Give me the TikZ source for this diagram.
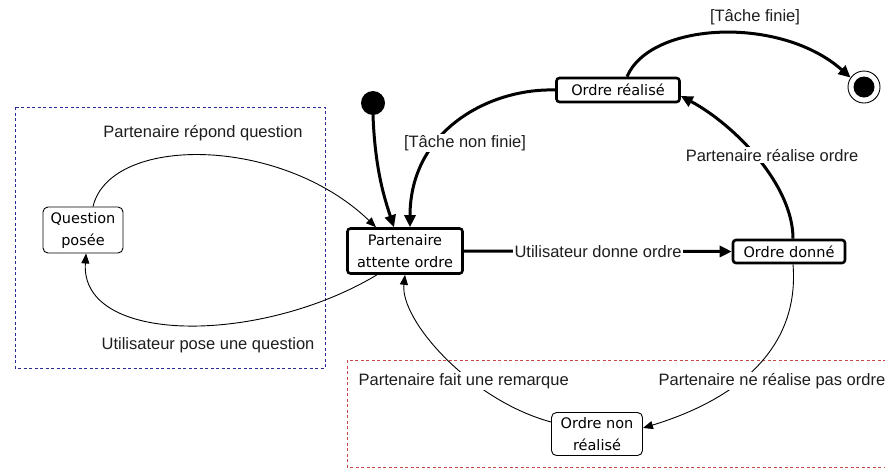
\documentclass[tikz,border=0pt]{standalone}
\usepackage{fontspec}
\setmainfont{Liberation Sans}
\newfontfamily\nodefont{DejaVu Sans}
\usetikzlibrary{arrows.meta}
\definecolor{boxblue}{RGB}{40,40,150}
\definecolor{boxred}{RGB}{200,70,70}
\definecolor{lbltext}{RGB}{30,30,30}
\begin{document}
\begin{tikzpicture}[x=1pt,y=-1pt,
  statebase/.style={draw, inner sep=0pt, align=center, fill=white,
    font=\nodefont\fontsize{14.5}{22}\selectfont},
  thickstate/.style={statebase, line width=2.6pt, rounded corners=3pt},
  thinstate/.style={statebase, line width=0.9pt, rounded corners=5pt},
  lbl/.style={font=\fontsize{16.5}{18}\selectfont, text=lbltext, inner sep=1.5pt},
  onlbl/.style={lbl, fill=white},
  strong/.style={line width=3pt, -{Triangle[length=12pt,width=11pt]}},
  weak/.style={line width=0.9pt, -{Triangle[length=10pt,width=8pt]}},
  zone/.style={line width=0.9pt, dash pattern=on 3pt off 2.5pt},
]
\useasboundingbox (0,0) rectangle (885,472);
\fill[white] (0,0) rectangle (885,472);
\clip (0,0) rectangle (885,472);

% zones
\draw[zone, boxblue] (15,107) rectangle (325,368);
\draw[zone, boxred] (347,360) rectangle (900,467);

% states
\node[thinstate, minimum width=80pt, minimum height=46pt] (qp) at (83,230) {Question\\posée};
\node[thickstate, minimum width=115pt, minimum height=45pt] (pa) at (405,251) {Partenaire\\attente ordre};
\node[thickstate, minimum width=112pt, minimum height=23pt] (od) at (789,251.5) {Ordre donné};
\node[thickstate, minimum width=123pt, minimum height=24pt] (or) at (618,90) {Ordre réalisé};
\node[thinstate, minimum width=91pt, minimum height=43pt] (onr) at (597,434) {Ordre non\\réalisé};

% initial and final
\node[circle, fill=black, minimum size=24pt, inner sep=0pt] (init) at (373,103) {};
\node[circle, draw, line width=0.9pt, minimum size=32pt, inner sep=0pt] (fin) at (864,87) {};
\node[circle, fill=black, minimum size=21pt, inner sep=0pt] (finin) at (fin.center) {};

% connectors
\draw[weak] ([xshift=10pt]qp.north) .. controls (110,135) and (280,135) .. ([xshift=-29pt]pa.north);
\draw[weak] ([xshift=-28pt]pa.south) .. controls (260,345) and (80,345) .. ([xshift=3pt]qp.south);
\draw[strong] (init.south) .. controls (375,170) and (385,200) .. ([xshift=-11pt]pa.north);
\draw[strong] (or.west) .. controls (490,88) and (410,130) .. ([xshift=5pt]pa.north);
\draw[strong] (pa.east) -- (od.west);
\draw[strong] ([xshift=4pt]od.north) .. controls (793,185) and (735,125) .. ([yshift=-6pt]or.east);
\draw[strong] ([xshift=9pt]or.north) .. controls (650,22) and (780,15) .. (fin.145);
\draw[weak] ([xshift=4pt]od.south) .. controls (800,350) and (735,400) .. ([yshift=6pt]onr.east);
\draw[weak] ([yshift=12pt]onr.west) .. controls (470,400) and (400,320) .. (pa.south);

% labels
\node[lbl] (l1) at (203,133) {Partenaire répond question};
\node[lbl] (l2) at (208,345) {Utilisateur pose une question};
\node[onlbl] (l3) at (465,143) {[Tâche non finie]};
\node[lbl] (l4) at (755,17) {[Tâche finie]};
\node[onlbl] (l5) at (772,155) {Partenaire réalise ordre};
\node[onlbl] (l6) at (598,252) {Utilisateur donne ordre};
\node[onlbl, anchor=west] (l7) at (357,381) {Partenaire fait une remarque};
\node[onlbl, anchor=west] (l8) at (657,381) {Partenaire ne réalise pas ordre};
\end{tikzpicture}
\end{document}
